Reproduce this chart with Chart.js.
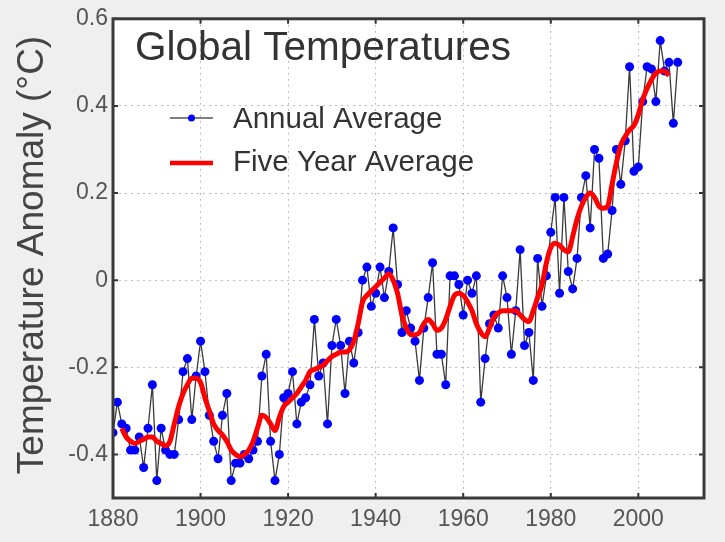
<!DOCTYPE html>
<html>
<head>
<meta charset="utf-8">
<script src="https://cdn.jsdelivr.net/npm/chart.js@4.4.1/dist/chart.umd.min.js"></script>
<style>
  html, body { margin: 0; padding: 0; background: #efefef; }
  #wrap { position: relative; width: 725px; height: 542px; }
</style>
</head>
<body>
<div id="wrap"><canvas id="c"></canvas></div>
<script>
const titleText = "Global Temperatures";
const yAxisTitle = "Temperature Anomaly (\u00B0C)";
const annualLabel = "Annual Average";
const fiveYearLabel = "Five Year Average";

const xTicks = [1880, 1900, 1920, 1940, 1960, 1980, 2000];
const yTicks = [-0.4, -0.2, 0, 0.2, 0.4, 0.6];

const annualYears = [
  1880,1881,1882,1883,1884,1885,1886,1887,1888,1889,
  1890,1891,1892,1893,1894,1895,1896,1897,1898,1899,
  1900,1901,1902,1903,1904,1905,1906,1907,1908,1909,
  1910,1911,1912,1913,1914,1915,1916,1917,1918,1919,
  1920,1921,1922,1923,1924,1925,1926,1927,1928,1929,
  1930,1931,1932,1933,1934,1935,1936,1937,1938,1939,
  1940,1941,1942,1943,1944,1945,1946,1947,1948,1949,
  1950,1951,1952,1953,1954,1955,1956,1957,1958,1959,
  1960,1961,1962,1963,1964,1965,1966,1967,1968,1969,
  1970,1971,1972,1973,1974,1975,1976,1977,1978,1979,
  1980,1981,1982,1983,1984,1985,1986,1987,1988,1989,
  1990,1991,1992,1993,1994,1995,1996,1997,1998,1999,
  2000,2001,2002,2003,2004,2005,2006,2007,2008,2009
];
const annualValues = [
  -0.35,-0.28,-0.33,-0.34,-0.39,-0.39,-0.36,-0.43,-0.34,-0.24,
  -0.46,-0.34,-0.39,-0.40,-0.40,-0.32,-0.21,-0.18,-0.32,-0.22,
  -0.14,-0.21,-0.31,-0.37,-0.41,-0.31,-0.26,-0.46,-0.42,-0.42,
  -0.40,-0.41,-0.39,-0.37,-0.22,-0.17,-0.37,-0.46,-0.40,-0.27,
  -0.26,-0.21,-0.33,-0.28,-0.27,-0.24,-0.09,-0.22,-0.19,-0.33,
  -0.15,-0.09,-0.15,-0.26,-0.14,-0.19,-0.12,0.00,0.03,-0.06,
  -0.03,0.03,-0.04,0.02,0.12,-0.01,-0.12,-0.07,-0.11,-0.14,
  -0.23,-0.11,-0.04,0.04,-0.17,-0.17,-0.24,0.01,0.01,-0.01,
  -0.08,0.00,-0.03,0.01,-0.28,-0.18,-0.10,-0.08,-0.11,0.01,
  -0.04,-0.17,-0.07,0.07,-0.15,-0.12,-0.23,0.05,-0.06,0.01,
  0.11,0.19,-0.03,0.19,0.02,-0.02,0.05,0.19,0.24,0.12,
  0.30,0.28,0.05,0.06,0.16,0.30,0.22,0.32,0.49,0.25,
  0.26,0.41,0.49,0.485,0.41,0.55,0.48,0.50,0.36,0.50
];

const fiveYearYears = [
  1882,1883,1884,1885,1886,1887,1888,1889,
  1890,1891,1892,1893,1894,1895,1896,1897,1898,1899,
  1900,1901,1902,1903,1904,1905,1906,1907,1908,1909,
  1910,1911,1912,1913,1914,1915,1916,1917,1918,1919,
  1920,1921,1922,1923,1924,1925,1926,1927,1928,1929,
  1930,1931,1932,1933,1934,1935,1936,1937,1938,1939,
  1940,1941,1942,1943,1944,1945,1946,1947,1948,1949,
  1950,1951,1952,1953,1954,1955,1956,1957,1958,1959,
  1960,1961,1962,1963,1964,1965,1966,1967,1968,1969,
  1970,1971,1972,1973,1974,1975,1976,1977,1978,1979,
  1980,1981,1982,1983,1984,1985,1986,1987,1988,1989,
  1990,1991,1992,1993,1994,1995,1996,1997,1998,1999,
  2000,2001,2002,2003,2004,2005,2006,2007
];
const fiveYearValues = [
  -0.34,-0.36,-0.37,-0.375,-0.37,-0.365,-0.36,-0.36,
  -0.37,-0.375,-0.38,-0.37,-0.33,-0.29,-0.26,-0.24,-0.225,-0.225,
  -0.235,-0.27,-0.30,-0.33,-0.345,-0.355,-0.37,-0.39,-0.40,-0.405,
  -0.40,-0.39,-0.37,-0.34,-0.31,-0.315,-0.33,-0.345,-0.315,-0.29,
  -0.28,-0.27,-0.26,-0.245,-0.23,-0.21,-0.205,-0.20,-0.195,-0.185,
  -0.175,-0.17,-0.165,-0.165,-0.16,-0.14,-0.10,-0.05,-0.035,-0.025,
  -0.015,-0.005,0.005,0.015,0.00,-0.03,-0.08,-0.11,-0.125,-0.125,
  -0.12,-0.10,-0.09,-0.10,-0.115,-0.11,-0.09,-0.06,-0.035,-0.03,
  -0.035,-0.05,-0.07,-0.10,-0.12,-0.13,-0.11,-0.085,-0.075,-0.07,
  -0.07,-0.07,-0.07,-0.08,-0.09,-0.095,-0.07,-0.04,-0.01,0.04,
  0.075,0.085,0.08,0.07,0.065,0.10,0.14,0.17,0.19,0.20,
  0.19,0.17,0.165,0.17,0.22,0.27,0.31,0.33,0.345,0.355,
  0.38,0.415,0.44,0.46,0.475,0.48,0.48,0.47
];

const FONT = "'Liberation Sans', Arial, sans-serif";

const decorPlugin = {
  id: 'decor',
  beforeDraw(chart) {
    const { ctx, chartArea: a } = chart;
    ctx.save();
    ctx.fillStyle = '#ffffff';
    ctx.fillRect(a.left, a.top, a.right - a.left, a.bottom - a.top);
    ctx.restore();
  },
  afterDraw(chart) {
    const { ctx, chartArea: a, scales } = chart;
    ctx.save();
    // inward tick marks
    ctx.strokeStyle = '#333';
    ctx.lineWidth = 2;
    const tl = 5;
    xTicks.forEach(v => {
      const px = scales.x.getPixelForValue(v);
      ctx.beginPath();
      ctx.moveTo(px, a.bottom); ctx.lineTo(px, a.bottom - tl);
      ctx.moveTo(px, a.top); ctx.lineTo(px, a.top + tl);
      ctx.stroke();
    });
    yTicks.forEach(v => {
      const py = scales.y.getPixelForValue(v);
      ctx.beginPath();
      ctx.moveTo(a.left, py); ctx.lineTo(a.left + tl, py);
      ctx.moveTo(a.right, py); ctx.lineTo(a.right - tl, py);
      ctx.stroke();
    });
    // frame
    ctx.strokeStyle = '#3a3a3a';
    ctx.lineWidth = 3;
    ctx.strokeRect(a.left, a.top, a.right - a.left, a.bottom - a.top);

    // title
    ctx.fillStyle = '#333';
    ctx.textBaseline = 'alphabetic';
    ctx.textAlign = 'left';
    ctx.font = '40.5px ' + FONT;
    ctx.fillText(titleText, 135, 60);

    // legend
    ctx.font = '29.5px ' + FONT;
    ctx.fillText(annualLabel, 233, 128);
    ctx.fillText(fiveYearLabel, 233, 171);
    ctx.strokeStyle = '#555';
    ctx.lineWidth = 1.5;
    ctx.beginPath(); ctx.moveTo(170, 118); ctx.lineTo(213, 118); ctx.stroke();
    ctx.fillStyle = '#0000ff';
    ctx.beginPath(); ctx.arc(191.5, 118, 3.5, 0, Math.PI * 2); ctx.fill();
    ctx.strokeStyle = '#ff0000';
    ctx.lineWidth = 4.5;
    ctx.beginPath(); ctx.moveTo(170, 163); ctx.lineTo(213, 163); ctx.stroke();

    // y-axis title
    ctx.translate(43, 255);
    ctx.rotate(-Math.PI / 2);
    ctx.fillStyle = '#444';
    ctx.font = '37px ' + FONT;
    ctx.textAlign = 'center';
    ctx.textBaseline = 'alphabetic';
    ctx.fillText(yAxisTitle, 0, 0);
    ctx.restore();
  }
};

new Chart(document.getElementById('c'), {
  type: 'line',
  data: {
    datasets: [
      {
        label: fiveYearLabel,
        data: fiveYearYears.map((yr, i) => ({ x: yr, y: fiveYearValues[i] })),
        borderColor: '#ff0000',
        borderWidth: 5,
        pointRadius: 0,
        tension: 0.4,
        cubicInterpolationMode: 'monotone',
        fill: false
      },
      {
        label: annualLabel,
        data: annualYears.map((yr, i) => ({ x: yr, y: annualValues[i] })),
        borderColor: '#3a3a3a',
        borderWidth: 1.3,
        pointRadius: 4.5,
        pointBackgroundColor: '#0000ff',
        pointBorderWidth: 0,
        tension: 0,
        fill: false
      }
    ]
  },
  options: {
    responsive: true,
    maintainAspectRatio: false,
    animation: false,
    layout: { padding: { top: 5, right: 21, left: 0, bottom: 0 } },
    plugins: { legend: { display: false }, tooltip: { enabled: false } },
    scales: {
      x: {
        type: 'linear',
        min: 1880,
        max: 2015,
        afterBuildTicks: s => { s.ticks = xTicks.map(v => ({ value: v })); },
        afterFit: s => { s.height = 44; },
        grid: { color: '#bdbdbd', drawTicks: false, lineWidth: 1 },
        border: { display: false, dash: [2, 4] },
        ticks: {
          font: { size: 23, family: FONT },
          color: '#555',
          padding: 8,
          maxRotation: 0,
          autoSkip: false,
          callback: v => String(v)
        }
      },
      y: {
        type: 'linear',
        min: -0.5,
        max: 0.6,
        afterBuildTicks: s => { s.ticks = yTicks.map(v => ({ value: v })); },
        afterFit: s => { s.width = 113; },
        grid: { color: '#bdbdbd', drawTicks: false, lineWidth: 1 },
        border: { display: false, dash: [2, 4] },
        ticks: {
          font: { size: 23, family: FONT },
          color: '#555',
          padding: 5,
          autoSkip: false,
          callback: v => (Math.abs(v) < 1e-9 ? '0' : Number(v).toFixed(1))
        }
      }
    }
  },
  plugins: [decorPlugin]
});
</script>
</body>
</html>
